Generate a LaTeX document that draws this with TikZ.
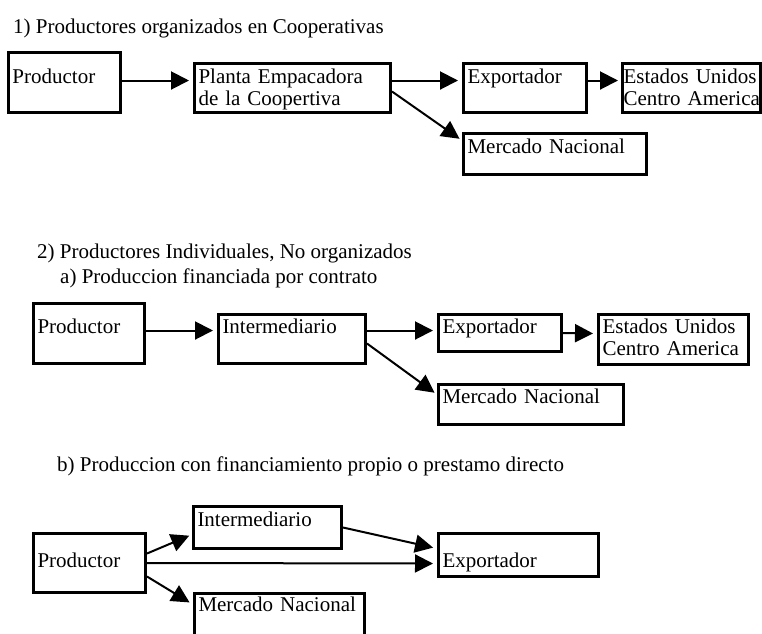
\documentclass[tikz,border=0pt]{standalone}
\usepackage{fontspec}
\setmainfont{Liberation Serif}
\usetikzlibrary{arrows.meta}

\begin{document}
\begin{tikzpicture}[x=1pt,y=-1pt,
  every node/.style={font=\fontsize{21}{21.5}\selectfont},
  caja/.style={draw,line width=3pt,anchor=north west,inner xsep=4pt,inner ysep=0pt,align=left},
  titulo/.style={anchor=base west,inner sep=0pt},
  flecha/.style={line width=2pt,-{Triangle[length=18pt,width=18pt]}}]
\useasboundingbox (0,0) rectangle (762,633);
\clip (0,0) rectangle (762,633);
\node (t1) at (13,33) [titulo] {1) Productores organizados en Cooperativas};
  \node (p1) at (7,51) [caja,text width=104pt,text height=31pt,text depth=29pt] {Productor};
  \node (e1) at (193,62) [caja,text width=188pt,text height=20pt,text depth=29pt] {Planta Empacadora\\de la Coopertiva};
  \node (x1) at (462,62) [caja,text width=115pt,text height=20pt,text depth=29pt] {Exportador};
  \node (u1) at (621,62) [caja,inner xsep=1pt,text width=136pt,text height=20pt,text depth=29pt] {\mbox{Estados Unidos}\\\mbox{Centro America}};
  \node (n1) at (462,132) [caja,text width=175pt,text height=20pt,text depth=21pt] {Mercado Nacional};
  \draw [flecha,shorten >=4pt] ([yshift=2pt]p1.east) -- ([yshift=7.5pt]e1.west);
  \draw [flecha,shorten >=4pt] ([yshift=7.5pt]e1.east) -- ([yshift=7.5pt]x1.west);
  \draw [flecha,shorten >=3pt] ([yshift=7.5pt]x1.east) -- ([yshift=7.5pt]u1.west);
  \draw [flecha,shorten >=3pt] ([yshift=-3.5pt]e1.east) -- ([yshift=13.5pt]n1.west);
\node (t2) at (37,258) [titulo] {2) Productores Individuales, No organizados};
\node (t3) at (60,283) [titulo] {a) Produccion financiada por contrato};
  \node (p2) at (32,302) [caja,text width=103pt,text height=30pt,text depth=30pt] {Productor};
  \node (i2) at (217,313) [caja,text width=139pt,text height=19pt,text depth=30pt] {Intermediario};
  \node (x2) at (437,313) [caja,text width=115pt,text height=19pt,text depth=18pt] {Exportador};
  \node (u2) at (597,313) [caja,text width=142pt,text height=19pt,text depth=31pt] {\mbox{Estados Unidos}\\\mbox{Centro America}};
  \node (n2) at (437,383) [caja,text width=177pt,text height=19pt,text depth=21pt] {Mercado Nacional};
  \draw [flecha,shorten >=4pt] ([yshift=3pt]p2.east) -- ([yshift=8.5pt]i2.west);
  \draw [flecha,shorten >=4pt] ([yshift=8.5pt]i2.east) -- ([yshift=2.5pt]x2.west);
  \draw [flecha,shorten >=4pt] (x2.east) -- ([yshift=6pt]u2.west);
  \draw [flecha,shorten >=3pt] ([yshift=-4.5pt]i2.east) -- ([yshift=10pt]n2.west);
\node (t4) at (57,471) [titulo] {b) Produccion con financiamiento propio o prestamo directo};
  \node (p3) at (32,532) [caja,text width=104pt,text height=34pt,text depth=25pt] {Productor};
  \node (i3) at (192,505) [caja,text width=140pt,text height=20pt,text depth=22pt] {Intermediario};
  \node (n3) at (193,592) [caja,text width=162pt,text height=18pt,text depth=30pt] {Mercado Nacional};
  \node (x3) at (437,532) [caja,text width=152pt,text height=34pt,text depth=9pt] {Exportador};
  \draw [flecha,shorten >=3pt] ([yshift=9.5pt]p3.east) -- ([yshift=-7pt]i3.west);
  \draw [flecha,shorten >=4pt] ([yshift=-13.5pt]p3.east) -- ([yshift=13pt]n3.west);
  \draw [flecha,shorten >=4pt] (p3.east) -- ([yshift=-8.5pt]x3.west);
  \draw [flecha,shorten >=4pt] (i3.east) -- ([yshift=6.5pt]x3.west);
\end{tikzpicture}
\end{document}
